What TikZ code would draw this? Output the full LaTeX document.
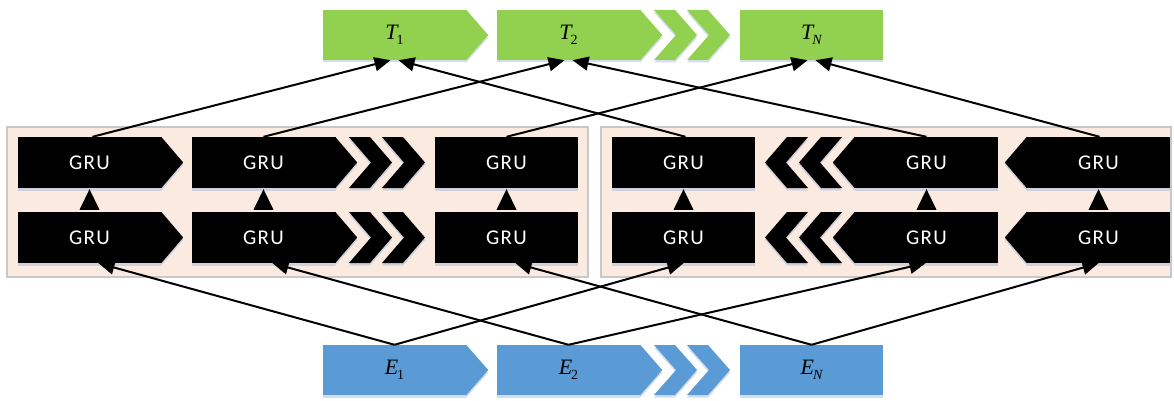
\documentclass[tikz,border=0pt]{standalone}
\usepackage{fontspec}
\newfontfamily\grufont[LetterSpace=6]{Carlito}
\newfontfamily\tnr{Liberation Serif}
\usetikzlibrary{arrows.meta}
\definecolor{tgreen}{HTML}{92D050}
\definecolor{eblue}{HTML}{5B9BD5}
\definecolor{framefill}{HTML}{FBEAE0}
\definecolor{framedraw}{HTML}{C8C8C8}
\definecolor{shadowc}{HTML}{9DB4D8}
\newcommand{\lab}[2]{{\tnr\fontsize{22}{22}\selectfont\itshape #1\kern-1pt\raisebox{-5pt}{\fontsize{14}{14}\selectfont #2}}}
% right-pointing chevron: left-top x, top y, height, colour
\newcommand{\chevR}[4]{\fill[#4,shd] (#1,#2) -- ++(21,0) -- ++(22,#3/2) -- ++(-22,#3/2) -- ++(-21,0) -- ++(22,-#3/2) -- cycle;}
% left-pointing chevron: right-top x, top y, height, colour
\newcommand{\chevL}[4]{\fill[#4,shd] (#1,#2) -- ++(-21,0) -- ++(-22,#3/2) -- ++(22,#3/2) -- ++(21,0) -- ++(-22,-#3/2) -- cycle;}
\begin{document}
\begin{tikzpicture}[x=1pt,y=-1pt,
  shd/.style={preaction={fill=shadowc,fill opacity=0.45,transform canvas={yshift=-2.5pt}}},
  gru/.style={fill=black, shd, text=white, minimum width=143pt, minimum height=51pt, inner sep=0pt, font=\grufont\fontsize{21}{21}\selectfont},
  tbox/.style={fill=tgreen, shd, minimum width=143pt, minimum height=50pt, inner sep=0pt},
  ebox/.style={fill=eblue, shd, minimum width=143pt, minimum height=50pt, inner sep=0pt},
  conn/.style={line width=2pt, -{Triangle[length=16pt,width=14pt]}},
  frame/.style={fill=framefill, draw=framedraw, line width=1.5pt}
]
\useasboundingbox (0,0) rectangle (1174,401);
% frames
\draw[frame] (7,127) rectangle (588,277);
\draw[frame] (601,127) rectangle (1171,277);

% T row
\node[tbox] (T1) at (394.5,35) {\lab{T}{\upshape 1}};
\node[tbox] (T2) at (568.5,35) {\lab{T}{\upshape 2}};
\node[tbox] (TN) at (811.5,35) {\lab{T}{N}};
\fill[tgreen,shd] (T1.north east) -- ([xshift=22pt]T1.east) -- (T1.south east) -- cycle;
\fill[tgreen,shd] (T2.north east) -- ([xshift=22pt]T2.east) -- (T2.south east) -- cycle;
\chevR{654}{10}{50}{tgreen}
\chevR{687}{10}{50}{tgreen}

% E row
\node[ebox] (E1) at (394.5,370) {\lab{E}{\upshape 1}};
\node[ebox] (E2) at (568.5,370) {\lab{E}{\upshape 2}};
\node[ebox] (EN) at (811.5,370) {\lab{E}{N}};
\fill[eblue,shd] (E1.north east) -- ([xshift=22pt]E1.east) -- (E1.south east) -- cycle;
\fill[eblue,shd] (E2.north east) -- ([xshift=22pt]E2.east) -- (E2.south east) -- cycle;
\chevR{654}{345}{50}{eblue}
\chevR{687}{345}{50}{eblue}

% left GRUs
\node[gru] (L1t) at (89.5,162.5) {GRU};
\node[gru] (L2t) at (263.5,162.5) {GRU};
\node[gru] (L3t) at (506.5,162.5) {GRU};
\node[gru] (L1b) at (89.5,237.5) {GRU};
\node[gru] (L2b) at (263.5,237.5) {GRU};
\node[gru] (L3b) at (506.5,237.5) {GRU};
\foreach \n in {L1t,L2t,L1b,L2b}{
  \fill[black,shd] (\n.north east) -- ([xshift=22pt]\n.east) -- (\n.south east) -- cycle;
}
\chevR{349}{137}{51}{black}
\chevR{382}{137}{51}{black}
\chevR{349}{212}{51}{black}
\chevR{382}{212}{51}{black}

% right GRUs
\node[gru] (R1t) at (683.5,162.5) {GRU};
\node[gru] (R2t) at (926.5,162.5) {GRU};
\node[gru] (R3t) at (1098.5,162.5) {GRU};
\node[gru] (R1b) at (683.5,237.5) {GRU};
\node[gru] (R2b) at (926.5,237.5) {GRU};
\node[gru] (R3b) at (1098.5,237.5) {GRU};
\foreach \n in {R2t,R3t,R2b,R3b}{
  \fill[black,shd] (\n.north west) -- ([xshift=-22pt]\n.west) -- (\n.south west) -- cycle;
}
\chevL{808}{137}{51}{black}
\chevL{842}{137}{51}{black}
\chevL{808}{212}{51}{black}
\chevL{842}{212}{51}{black}

% vertical arrows (bottom GRU -> top GRU), drawn as solid triangles
\foreach \c in {L1,L2,L3,R1,R2,R3}{
  \fill[black] ([shift={(-10pt,2pt)}]\c b.north) -- ([shift={(10pt,2pt)}]\c b.north) -- ([yshift=-1pt]\c t.south) -- cycle;
}

% connectors to T
\draw[conn] ([xshift=3pt]L1t.north) -- ([xshift=-4pt]T1.south);
\draw[conn] ([xshift=2pt]R1t.north) -- ([xshift=4pt]T1.south);
\draw[conn] ([xshift=0pt]L2t.north) -- ([xshift=-4pt]T2.south);
\draw[conn] ([xshift=0pt]R2t.north) -- ([xshift=4pt]T2.south);
\draw[conn] ([xshift=0pt]L3t.north) -- ([xshift=-4pt]TN.south);
\draw[conn] ([xshift=1pt]R3t.north) -- ([xshift=4pt]TN.south);

% connectors from E
\draw[conn] (E1.north) -- ([xshift=9pt]L1b.south);
\draw[conn] (E1.north) -- ([xshift=0pt]R1b.south);
\draw[conn] (E2.north) -- ([xshift=9pt]L2b.south);
\draw[conn] (E2.north) -- ([xshift=-1pt]R2b.south);
\draw[conn] (EN.north) -- ([xshift=9pt]L3b.south);
\draw[conn] (EN.north) -- ([xshift=0pt]R3b.south);
\end{tikzpicture}
\end{document}
